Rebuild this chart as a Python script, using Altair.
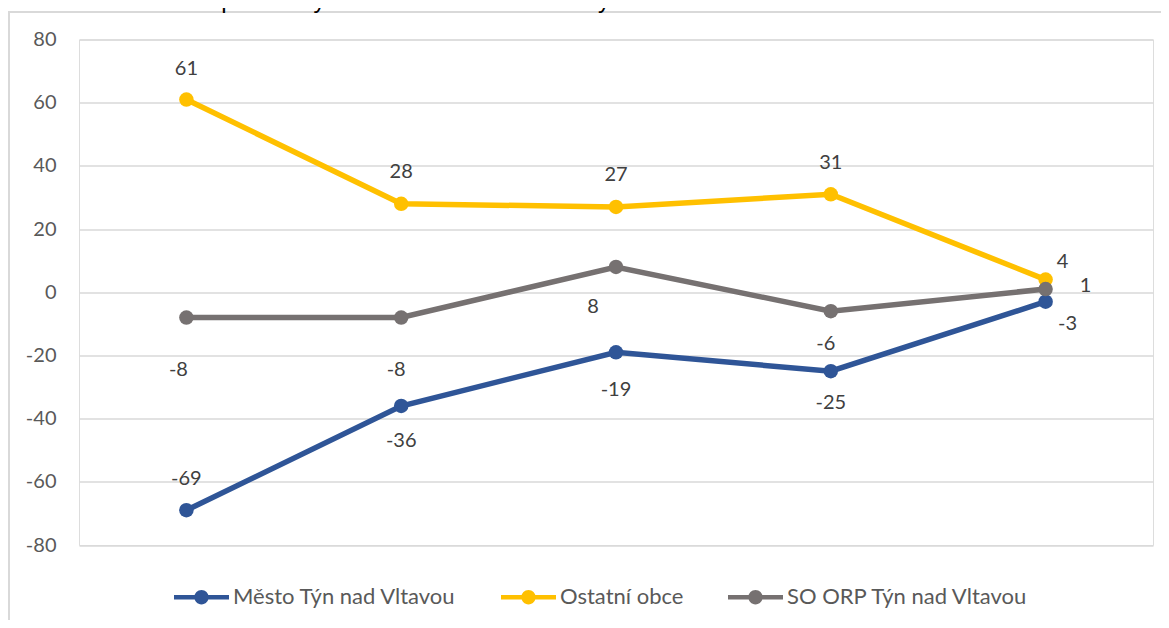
import altair as alt
import pandas as pd

# ---- data ----
years = ["2013", "2014", "2015", "2016", "2017"]
series_names = ["Město Týn nad Vltavou", "Ostatní obce", "SO ORP Týn nad Vltavou"]
mesto = [-69, -36, -19, -25, -3]
ostatni = [61, 28, 27, 31, 4]
orp = [-8, -8, 8, -6, 1]
y_ticks = [-80, -60, -40, -20, 0, 20, 40, 60, 80]
title_bold = "Graf 3. 9:"
title_rest = "Změna počtu obyvatel celkem v SO ORP Týn nad Vltavou v letech 2013 – 2017"

# ---- styling ----
colors = ["#2F5597", "#FFC000", "#767171"]
# data-label nudges (px), per series, per point
label_dx = [[0, 0, 0, 0, 22], [0, 0, 0, 0, 17], [-8, -5, -23, -5, 40]]
label_dy = [[-31, 35, 38, 32, 22], [-31, -32, -32, -31, -18], [52, 52, 40, 33, -3]]

FONT = "Lato"
rows = []
for s, vals in zip(series_names, [mesto, ostatni, orp]):
    for i, (yr, v) in enumerate(zip(years, vals)):
        rows.append({"series": s, "year": yr, "value": v, "idx": i, "label": str(v)})
df = pd.DataFrame(rows)

x_enc = alt.X("year:O", axis=None, scale=alt.Scale(type="point", padding=0.5))
y_enc = alt.Y(
    "value:Q",
    scale=alt.Scale(domain=[-80, 80], nice=False, zero=False),
    axis=alt.Axis(
        values=y_ticks, title=None, domain=False, ticks=False, grid=True,
        gridColor="#D9D9D9", gridWidth=1.3, labelFont=FONT, labelFontSize=20,
        labelColor="#595959", labelPadding=23, labelExpr="'' + datum.value",
    ),
)
color_scale = alt.Scale(domain=series_names, range=colors)

legend_path = ("M-1,-0.085L1,-0.085L1,0.085L-1,0.085Z "
               "M0.26,0A0.26,0.26,0,1,1,-0.26,0A0.26,0.26,0,1,1,0.26,0Z")
legend = alt.Legend(
    title=None, orient="none", legendX=95, legendY=530,
    direction="horizontal", columns=3, symbolType=legend_path,
    symbolSize=3025, symbolStrokeWidth=0, symbolOpacity=1,
    labelFont=FONT, labelFontSize=22, labelColor="#595959",
    labelOffset=4, columnPadding=44, labelLimit=400,
)
color_enc = alt.Color("series:N", scale=color_scale, sort=series_names, legend=legend)

base = alt.Chart(df)
lines = base.mark_line(strokeWidth=5.5).encode(x=x_enc, y=y_enc, color=color_enc)
points = base.mark_circle(size=210, opacity=1).encode(x=x_enc, y=y_enc, color=color_enc)

label_layers = []
for si, s in enumerate(series_names):
    for i in range(len(years)):
        label_layers.append(
            base.transform_filter(
                f"datum.series == '{s}' && datum.idx == {i}"
            ).mark_text(
                dx=label_dx[si][i], dy=label_dy[si][i], font=FONT, fontSize=20,
                color="#404040", align="center", baseline="middle",
            ).encode(x=x_enc, y=y_enc, text="label:N")
        )

deco = alt.Chart(pd.DataFrame({"a": [0]}))
left_border = deco.mark_rule(color="#D9D9D9", strokeWidth=2).encode(
    x=alt.value(-70), y=alt.value(-27.5), y2=alt.value(582))
top_border = deco.mark_rule(color="#D9D9D9", strokeWidth=2).encode(
    x=alt.value(-71), x2=alt.value(1082), y=alt.value(-27.5))

title_df = pd.DataFrame({"t": [title_bold]})
title_df2 = pd.DataFrame({"t": [title_rest]})
title1 = alt.Chart(title_df).mark_text(
    font="Liberation Sans", fontSize=24, fontWeight="bold", color="#000000",
    align="left", baseline="alphabetic",
).encode(x=alt.value(-71), y=alt.value(-31.5), text="t:N")
title2 = alt.Chart(title_df2).mark_text(
    font="Liberation Sans", fontSize=24, color="#000000",
    align="left", baseline="alphabetic",
).encode(x=alt.value(61), y=alt.value(-31.5), text="t:N")

chart = alt.layer(
    left_border, top_border, title1, title2, lines, points, *label_layers
).properties(
    width=1074, height=505.5,
    padding={"left": 71, "top": 31.5, "right": 8, "bottom": 75},
    autosize="none",
).configure_view(stroke=None).configure(background="white")

chart.save("out.html", embed_options={"renderer": "svg", "actions": False})
